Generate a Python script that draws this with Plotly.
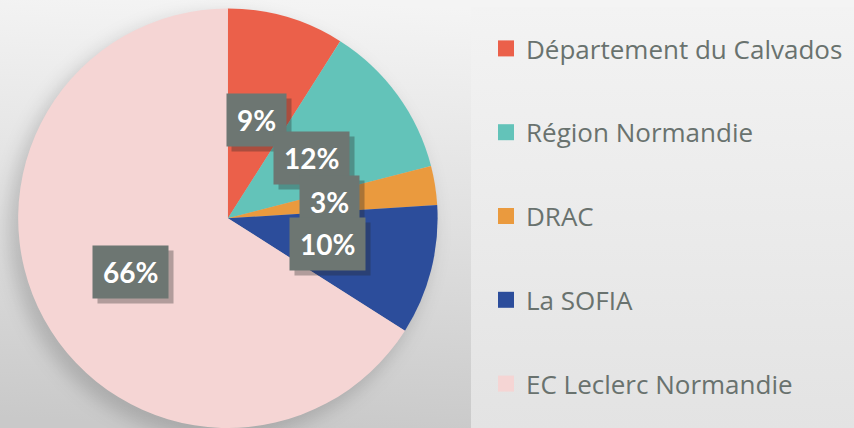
import base64, math
import plotly.graph_objects as go

labels = ["Département du Calvados", "Région Normandie", "DRAC", "La SOFIA", "EC Leclerc Normandie"]
values = [9, 12, 3, 10, 66]
colors = ["#EB604A", "#63C3B9", "#EA9A3E", "#2C4D9B", "#F5D5D4"]
pct_text = ["9%", "12%", "3%", "10%", "66%"]

W, H = 854, 428
# pie geometry (paper fractions)
dom_x = [0.0197, 0.514]
dom_y = [0.0, 0.98]

svg = f'''<svg xmlns="http://www.w3.org/2000/svg" width="{W}" height="{H}" viewBox="0 0 {W} {H}" preserveAspectRatio="none">
<defs>
<linearGradient id="bg" x1="0.35" y1="0" x2="0.25" y2="1">
<stop offset="0" stop-color="#f4f4f4"/><stop offset="0.5" stop-color="#e0e0e0"/><stop offset="1" stop-color="#c9c9c9"/>
</linearGradient>
<linearGradient id="pn" x1="0" y1="0" x2="0" y2="1">
<stop offset="0" stop-color="#f3f3f3"/><stop offset="1" stop-color="#e3e3e3"/>
</linearGradient>
<filter id="bl" x="-20%" y="-20%" width="140%" height="140%"><feGaussianBlur stdDeviation="9"/></filter>
</defs>
<rect width="{W}" height="{H}" fill="url(#bg)"/>
<rect x="471" y="7" width="{W-471}" height="{H-7}" fill="url(#pn)"/>
<circle cx="221" cy="227" r="212" fill="rgba(0,0,0,0.16)" filter="url(#bl)"/>
</svg>'''
src = "data:image/svg+xml;base64," + base64.b64encode(svg.encode()).decode()

fig = go.Figure()
fig.add_trace(go.Pie(
    labels=labels, values=values, sort=False, direction="clockwise", rotation=0,
    marker=dict(colors=colors, line=dict(width=0)),
    textinfo="none", hoverinfo="label+percent", showlegend=False,
    domain=dict(x=dom_x, y=dom_y),
))

for lab, col in zip(labels, colors):
    fig.add_trace(go.Scatter(
        x=[None], y=[None], mode="markers", name=lab, legendgroup=lab,
        marker=dict(symbol="square", size=18, color=col), showlegend=True,
    ))

# label positions computed from values along the mid-angle of each slice
cx = (dom_x[0] + dom_x[1]) / 2 * W
cy = (1 - (dom_y[0] + dom_y[1]) / 2) * H
r = min((dom_x[1] - dom_x[0]) * W, (dom_y[1] - dom_y[0]) * H) / 2
total = sum(values)
cum = 0
annotations = []
for v, t in zip(values, pct_text):
    mid = (cum + v / 2) / total * 2 * math.pi
    cum += v
    f = 0.49 if v < 50 else 0.53
    px = cx + f * r * math.sin(mid)
    py = cy - f * r * math.cos(mid)
    xp, yp = px / W, 1 - py / H
    # shadow box
    annotations.append(dict(x=xp, y=yp, xref="paper", yref="paper", text=f"<b>{t}</b>", showarrow=False,
                            xanchor="center", yanchor="middle", height=32,
                            font=dict(family="Lato", size=28, color="rgba(0,0,0,0)"),
                            bgcolor="rgba(40,40,40,0.33)", borderpad=10, xshift=5, yshift=-5))
    annotations.append(dict(x=xp, y=yp, xref="paper", yref="paper",
                            text=f"<b>{t}</b>", showarrow=False,
                            xanchor="center", yanchor="middle", height=32,
                            font=dict(family="Lato", size=28, color="white"),
                            bgcolor="#6D7672", borderpad=10))

fig.update_layout(
    width=W, height=H, margin=dict(l=0, r=0, t=0, b=0),
    paper_bgcolor="#dddddd", plot_bgcolor="rgba(0,0,0,0)",
    xaxis=dict(visible=False), yaxis=dict(visible=False),
    images=[dict(source=src, xref="paper", yref="paper", x=0, y=1, sizex=1, sizey=1,
                 sizing="stretch", layer="below", xanchor="left", yanchor="top")],
    legend=dict(x=486 / W, y=1 - 25 / H, xanchor="left", yanchor="top",
                font=dict(family="Open Sans", size=26, color="#69726E"),
                bgcolor="rgba(0,0,0,0)", tracegroupgap=47),
    annotations=annotations,
    hovermode=False,
)
fig.write_html("out.html", config={"displayModeBar": False},
               post_script="document.documentElement.style.overflow='hidden';document.body.style.overflow='hidden';document.body.style.margin='0';document.body.style.padding='0';window.scrollTo(0,0);")
